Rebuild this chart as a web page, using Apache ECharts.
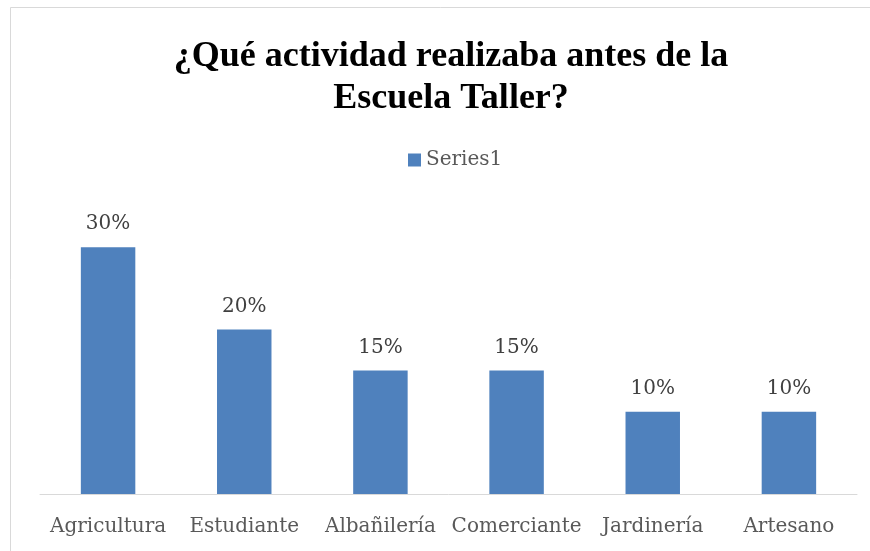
<!DOCTYPE html>
<html>
<head>
<meta charset="utf-8">
<script src="https://cdn.jsdelivr.net/npm/echarts@6/dist/echarts.min.js"></script>
<style>
html,body{margin:0;padding:0;background:#fff}
#chart{width:870px;height:551px}
</style>
</head>
<body>
<div id="chart"></div>
<script>
var categories = ['Agricultura', 'Estudiante', 'Albañilería', 'Comerciante', 'Jardinería', 'Artesano'];
var values = [30, 20, 15, 15, 10, 10];
var seriesName = 'Series1';

var chart = echarts.init(document.getElementById('chart'), null, {renderer: 'canvas'});
var option = {
  animation: false,
  backgroundColor: '#fff',
  graphic: [{
    type: 'rect',
    shape: {x: 10.5, y: 7.5, width: 880, height: 560},
    style: {fill: 'none', stroke: '#d9d9d9', lineWidth: 1},
    silent: true
  }],
  title: {
    text: '¿Qué actividad realizaba antes de la\nEscuela Taller?',
    left: 446,
    top: 31,
    textAlign: 'center',
    textStyle: {
      fontFamily: 'Liberation Serif',
      fontWeight: 'bold',
      fontSize: 36,
      lineHeight: 42,
      color: '#000'
    }
  },
  legend: {
    data: [seriesName],
    top: 145,
    left: 403,
    icon: 'rect',
    itemWidth: 13,
    itemHeight: 13,
    itemGap: 5,
    textStyle: {fontFamily: 'DejaVu Serif', fontSize: 20, color: '#595959'}
  },
  grid: {left: 40, right: 13, top: 206, bottom: 57},
  xAxis: {
    type: 'category',
    data: categories,
    axisLine: {lineStyle: {color: '#d9d9d9', width: 1}},
    axisTick: {show: false},
    axisLabel: {
      interval: 0,
      margin: 23,
      fontFamily: 'DejaVu Serif',
      fontSize: 20,
      color: '#595959'
    }
  },
  yAxis: {
    type: 'value',
    min: 0,
    max: 35,
    show: false,
    splitLine: {show: false}
  },
  series: [{
    name: seriesName,
    type: 'bar',
    data: values,
    barCategoryGap: '60%',
    itemStyle: {color: '#4f81bd'},
    label: {
      show: true,
      position: 'top',
      distance: 13,
      formatter: '{c}%',
      fontFamily: 'DejaVu Serif',
      fontSize: 20,
      color: '#404040'
    }
  }]
};
chart.setOption(option);
</script>
</body>
</html>
